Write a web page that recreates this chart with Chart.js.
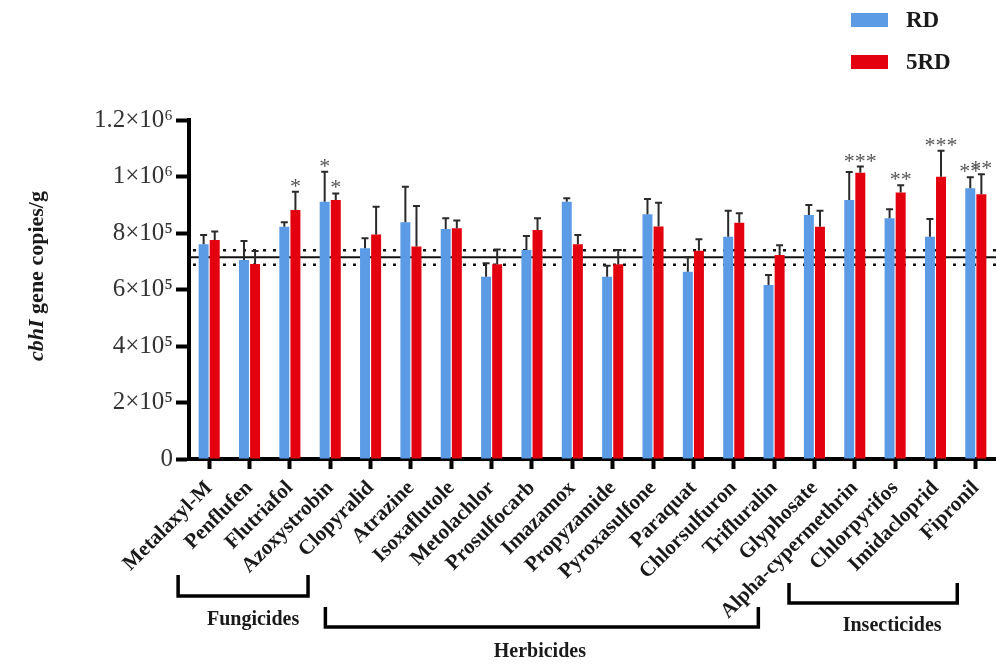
<!DOCTYPE html>
<html>
<head>
<meta charset="utf-8">
<script src="https://cdn.jsdelivr.net/npm/chart.js@4/dist/chart.umd.min.js"></script>
<style>
  body { margin: 0; background: #fff; }
</style>
</head>
<body>
<canvas id="geneChart" width="996" height="664"></canvas>
<script>
const categories = ['Metalaxyl-M', 'Penflufen', 'Flutriafol', 'Azoxystrobin', 'Clopyralid', 'Atrazine',
    'Isoxaflutole', 'Metolachlor', 'Prosulfocarb', 'Imazamox', 'Propyzamide', 'Pyroxasulfone',
    'Paraquat', 'Chlorsulfuron', 'Trifluralin', 'Glyphosate', 'Alpha-cypermethrin', 'Chlorpyrifos',
    'Imidacloprid', 'Fipronil'];

const rdValues = [760000, 704000, 822000, 911000, 746000, 838000, 814000, 645000, 740000, 911000,
    645000, 866000, 663000, 787000, 616000, 864000, 917000, 852000, 787000, 958000];
const rdErrors = [33000, 68000, 16000, 106000, 35000, 126000, 38000, 48000, 49000, 12000,
    39000, 54000, 51000, 92000, 35000, 35000, 99000, 32000, 63000, 39000];
const rdStars = ['', '', '', '*', '', '', '', '', '', '', '', '', '', '', '', '', '', '', '', '**'];

const fiveRdValues = [775000, 690000, 881000, 917000, 795000, 752000, 817000, 689000, 811000, 760000,
    689000, 823000, 737000, 836000, 722000, 822000, 1013000, 943000, 999000, 937000];
const fiveRdErrors = [30000, 46000, 65000, 23000, 98000, 144000, 27000, 53000, 41000, 33000,
    51000, 84000, 41000, 34000, 35000, 57000, 22000, 26000, 92000, 71000];
const fiveRdStars = ['', '', '*', '*', '', '', '', '', '', '', '', '', '', '', '', '', '***', '**', '***', '**'];

// control mean and its interval (horizontal reference lines)
const controlMean = 714000;
const controlLow = 688000;
const controlHigh = 739000;

const yTickLabels = ['0', '2×10⁵', '4×10⁵', '6×10⁵', '8×10⁵', '1×10⁶', '1.2×10⁶'];

const groupNames = ['Fungicides', 'Herbicides', 'Insecticides'];
const groupFirst = [0, 4, 16];
const groupLast = [3, 15, 19];

const serif = "'Liberation Serif', 'Times New Roman', serif";

// bracket layout under the rotated labels (category-unit shifts, pixel heights)
const bracketLayout = [
    { left: -0.77, right: -0.55, top: 575, bottom: 596, labelDx: 10, labelY: 620 },
    { left: -1.12, right: -1.39, top: 607, bottom: 627, labelDx: -2, labelY: 652 },
    { left: -1.63, right: -0.46, top: 583, bottom: 603, labelDx: 19, labelY: 626 }
];

const refLines = {
    id: 'refLines',
    beforeDatasetsDraw(chart) {
        const { ctx, chartArea, scales: { y } } = chart;
        ctx.save();
        ctx.strokeStyle = '#111';
        ctx.lineWidth = 2;
        ctx.beginPath();
        ctx.moveTo(chartArea.left, y.getPixelForValue(controlMean));
        ctx.lineTo(chartArea.right, y.getPixelForValue(controlMean));
        ctx.stroke();
        ctx.setLineDash([3, 7]);
        ctx.lineWidth = 2.5;
        [controlLow, controlHigh].forEach(v => {
            ctx.beginPath();
            ctx.moveTo(chartArea.left + 4, y.getPixelForValue(v));
            ctx.lineTo(chartArea.right, y.getPixelForValue(v));
            ctx.stroke();
        });
        ctx.restore();
    }
};

const errorBars = {
    id: 'errorBars',
    afterDatasetsDraw(chart) {
        const { ctx, scales: { y } } = chart;
        ctx.save();
        chart.data.datasets.forEach((ds, di) => {
            const meta = chart.getDatasetMeta(di);
            meta.data.forEach((bar, i) => {
                const top = y.getPixelForValue(ds.data[i] + ds.errors[i]);
                ctx.strokeStyle = '#2a2a2a';
                ctx.lineWidth = 2;
                ctx.beginPath();
                ctx.moveTo(bar.x, bar.y);
                ctx.lineTo(bar.x, top);
                ctx.moveTo(bar.x - 3.5, top);
                ctx.lineTo(bar.x + 3.5, top);
                ctx.stroke();
                if (ds.stars[i]) {
                    ctx.fillStyle = '#555';
                    ctx.font = '22px ' + serif;
                    ctx.textAlign = 'center';
                    ctx.textBaseline = 'alphabetic';
                    ctx.fillText(ds.stars[i], bar.x, top + 1);
                }
            });
        });
        ctx.restore();
    }
};

const extras = {
    id: 'extras',
    afterDraw(chart) {
        const { ctx, scales: { x } } = chart;
        ctx.save();

        // legend
        chart.data.datasets.forEach((ds, i) => {
            const yy = 13 + i * 42;
            ctx.fillStyle = ds.backgroundColor;
            ctx.fillRect(851, yy, 37, 14);
            ctx.fillStyle = '#1a1a1a';
            ctx.font = 'bold 23px ' + serif;
            ctx.textAlign = 'left';
            ctx.textBaseline = 'middle';
            ctx.fillText(ds.label, 906, yy + 8);
        });

        // y title with italic gene name
        ctx.translate(37, 276);
        ctx.rotate(-Math.PI / 2);
        const italicPart = 'cbhI';
        const plainPart = ' gene copies/g';
        ctx.font = 'italic bold 22px ' + serif;
        const w1 = ctx.measureText(italicPart).width;
        ctx.font = 'bold 22px ' + serif;
        const w2 = ctx.measureText(plainPart).width;
        ctx.fillStyle = '#1a1a1a';
        ctx.textBaseline = 'middle';
        ctx.textAlign = 'left';
        ctx.font = 'italic bold 22px ' + serif;
        ctx.fillText(italicPart, -(w1 + w2) / 2, 0);
        ctx.font = 'bold 22px ' + serif;
        ctx.fillText(plainPart, -(w1 + w2) / 2 + w1, 0);
        ctx.setTransform(1, 0, 0, 1, 0, 0);

        // group brackets
        groupNames.forEach((name, g) => {
            const lay = bracketLayout[g];
            const step = x.getPixelForValue(1) - x.getPixelForValue(0);
            const x0 = x.getPixelForValue(groupFirst[g]) + lay.left * step;
            const x1 = x.getPixelForValue(groupLast[g]) + lay.right * step;
            ctx.strokeStyle = '#000';
            ctx.lineWidth = 3.5;
            ctx.beginPath();
            ctx.moveTo(x0, lay.top);
            ctx.lineTo(x0, lay.bottom);
            ctx.lineTo(x1, lay.bottom);
            ctx.lineTo(x1, lay.top);
            ctx.stroke();
            ctx.fillStyle = '#1a1a1a';
            ctx.font = 'bold 20px ' + serif;
            ctx.textAlign = 'center';
            ctx.textBaseline = 'middle';
            ctx.fillText(name, (x0 + x1) / 2 + lay.labelDx, lay.labelY);
        });
        ctx.restore();
    }
};

new Chart(document.getElementById('geneChart'), {
    type: 'bar',
    data: {
        labels: categories,
        datasets: [
            { label: 'RD', data: rdValues, errors: rdErrors, stars: rdStars, backgroundColor: '#5b9be6' },
            { label: '5RD', data: fiveRdValues, errors: fiveRdErrors, stars: fiveRdStars, backgroundColor: '#e3000f' }
        ]
    },
    options: {
        responsive: false,
        animation: false,
        devicePixelRatio: 1,
        layout: { padding: { top: 120, right: 0, left: 0, bottom: 0 } },
        datasets: { bar: { categoryPercentage: 0.55, barPercentage: 0.9 } },
        plugins: {
            legend: { display: false },
            tooltip: { enabled: false }
        },
        scales: {
            x: {
                grid: { drawOnChartArea: false, offset: false, tickLength: 10, tickWidth: 4, color: '#000' },
                border: { color: '#000', width: 4 },
                ticks: {
                    autoSkip: false,
                    maxRotation: 45,
                    minRotation: 45,
                    padding: 7,
                    color: '#1a1a1a',
                    font: { family: serif, size: 21, weight: 'bold' }
                },
                afterFit: s => {
                    s.height = 205;
                    s.paddingLeft = 0;
                    s.paddingRight = 0;
                }
            },
            y: {
                min: 0,
                max: 1200000,
                grid: { drawOnChartArea: false, tickLength: 13, tickWidth: 4, color: '#000' },
                border: { color: '#000', width: 4 },
                ticks: {
                    stepSize: 200000,
                    padding: 3,
                    color: '#333',
                    font: { family: serif, size: 25 },
                    callback: v => yTickLabels[Math.round(v / 200000)]
                },
                afterFit: s => { s.width = 189; }
            }
        }
    },
    plugins: [refLines, errorBars, extras]
});
</script>
</body>
</html>
